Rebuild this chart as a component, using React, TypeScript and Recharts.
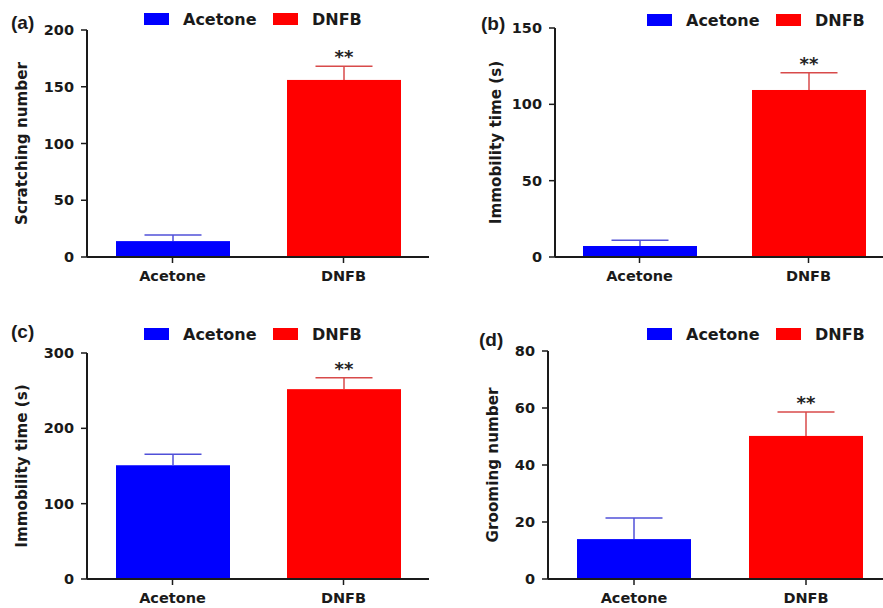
import React from 'react';
import { BarChart, Bar, XAxis, YAxis, Legend } from 'recharts';

const categories = ['Acetone', 'DNFB'];

const scratchMean = [14, 156];
const scratchSem = [5.4, 12];
const immobilityBMean = [7.2, 109.4];
const immobilityBSem = [3.8, 11.3];
const immobilityCMean = [151, 252];
const immobilityCSem = [14.5, 15];
const groomingMean = [14, 50.2];
const groomingSem = [7.4, 8.4];
const significant = [false, true];

const ticksA = [0, 50, 100, 150, 200];
const ticksB = [0, 50, 100, 150];
const ticksC = [0, 100, 200, 300];
const ticksD = [0, 20, 40, 60, 80];

const FONT = '"DejaVu Sans", sans-serif';
const AXIS = '#1a1a1a';
const BLUE = '#0000ff';
const RED = '#ff0000';
const BLUE_ERR = '#5050d8';
const RED_ERR = '#d84a4a';

function buildRows(means: number[], sems: number[]) {
  return categories.map((c, i) => ({
    name: c,
    acetone: i === 0 ? means[i] : null,
    dnfb: i === 1 ? means[i] : null,
    err: sems[i],
    sig: significant[i],
  }));
}

function makeShape(key: string, fill: string, errColor: string) {
  return (props: any) => {
    const { x, y, width, height, payload } = props;
    const v = payload ? payload[key] : null;
    if (v == null || !height || height <= 0) return <g />;
    const ppu = height / v;
    const e = payload.err * ppu;
    const cx = x + width / 2;
    const top = y - e;
    return (
      <g>
        <rect x={x} y={y} width={width} height={height} fill={fill} />
        <line x1={cx} y1={y} x2={cx} y2={top} stroke={errColor} strokeWidth={1.5} />
        <line x1={cx - 28.5} y1={top} x2={cx + 28.5} y2={top} stroke={errColor} strokeWidth={1.5} />
        {payload.sig ? (
          <text x={cx} y={top - 3} textAnchor="middle" fontFamily={FONT} fontWeight="bold" fontSize={18} fill="#222">
            **
          </text>
        ) : null}
      </g>
    );
  };
}

function LegendContent(props: any) {
  const payload = props.payload || [];
  return (
    <svg width={250} height={22} style={{ display: 'block' }}>
      {payload.map((e: any, i: number) => (
        <g key={i}>
          <rect x={i * 129} y={3} width={25} height={12} fill={e.color} />
          <text x={i * 129 + 39} y={15} fontFamily={FONT} fontWeight="bold" fontSize={16} fill="#1a1a1a">
            {e.value}
          </text>
        </g>
      ))}
    </svg>
  );
}

type PanelProps = {
  left: number;
  top: number;
  width: number;
  height: number;
  marginTop: number;
  marginBottom: number;
  yAxisWidth: number;
  xAxisHeight: number;
  domainMax: number;
  ticks: number[];
  means: number[];
  sems: number[];
  yLabel: string;
  yLabelX: number;
  legendLeft: number;
  legendTop: number;
  letter: string;
  letterLeft: number;
  letterTop: number;
};

function Panel(p: PanelProps) {
  const data = buildRows(p.means, p.sems);
  const yLabelContent = (lp: any) => {
    const vb = lp.viewBox || {};
    const cy = vb.y + vb.height / 2;
    return (
      <text
        x={p.yLabelX}
        y={cy}
        transform={`rotate(-90 ${p.yLabelX} ${cy})`}
        textAnchor="middle"
        fontFamily={FONT}
        fontWeight="bold"
        fontSize={15.2}
        fill="#1a1a1a"
      >
        {p.yLabel}
      </text>
    );
  };
  return (
    <div style={{ position: 'absolute', left: p.left, top: p.top }}>
      <BarChart
        width={p.width}
        height={p.height}
        data={data}
        margin={{ top: p.marginTop, right: 0, left: 0, bottom: p.marginBottom }}
        barGap={-114}
        barSize={114}
      >
        <XAxis
          dataKey="name"
          height={p.xAxisHeight}
          interval={0}
          tickSize={6}
          tickMargin={8}
          axisLine={{ stroke: AXIS, strokeWidth: 2 }}
          tickLine={{ stroke: AXIS, strokeWidth: 1.5 }}
          tick={{ fontFamily: FONT, fontWeight: 'bold', fontSize: 14.5, fill: '#1a1a1a' }}
        />
        <YAxis
          type="number"
          width={p.yAxisWidth}
          domain={[0, p.domainMax]}
          ticks={p.ticks}
          interval={0}
          tickSize={6}
          tickMargin={7}
          axisLine={{ stroke: AXIS, strokeWidth: 2 }}
          tickLine={{ stroke: AXIS, strokeWidth: 1.5 }}
          tick={{ fontFamily: FONT, fontWeight: 'bold', fontSize: 14.5, fill: '#1a1a1a' }}
          label={{ content: yLabelContent }}
        />
        <Legend
          layout="horizontal"
          verticalAlign="middle"
          align="center"
          content={<LegendContent />}
          wrapperStyle={{ position: 'absolute', left: p.legendLeft, top: p.legendTop, width: 250, height: 22, margin: 0 }}
        />
        <Bar dataKey="acetone" name="Acetone" fill={BLUE} isAnimationActive={false} shape={makeShape('acetone', BLUE, BLUE_ERR)} />
        <Bar dataKey="dnfb" name="DNFB" fill={RED} isAnimationActive={false} shape={makeShape('dnfb', RED, RED_ERR)} />
      </BarChart>
      <div
        style={{
          position: 'absolute',
          left: p.letterLeft,
          top: p.letterTop,
          fontFamily: '"Liberation Sans", Arial, sans-serif',
          fontWeight: 'bold',
          fontSize: 19,
          lineHeight: '19px',
          color: '#1a1a1a',
          whiteSpace: 'nowrap',
        }}
      >
        {p.letter}
      </div>
    </div>
  );
}

export default function App() {
  return (
    <div
      style={{
        position: 'fixed',
        left: 0,
        top: 0,
        width: 883,
        height: 608,
        overflow: 'hidden',
        background: '#ffffff',
      }}
    >
      <Panel
        left={0} top={0} width={429} height={300}
        marginTop={30} marginBottom={13} yAxisWidth={87} xAxisHeight={30}
        domainMax={200} ticks={ticksA} means={scratchMean} sems={scratchSem}
        yLabel="Scratching number" yLabelX={27}
        legendLeft={144} legendTop={10}
        letter="(a)" letterLeft={11} letterTop={13}
      />
      <Panel
        left={441} top={0} width={452} height={300}
        marginTop={28} marginBottom={13} yAxisWidth={114} xAxisHeight={30}
        domainMax={150} ticks={ticksB} means={immobilityBMean} sems={immobilityBSem}
        yLabel="Immobility time (s)" yLabelX={59.5}
        legendLeft={206} legendTop={11}
        letter="(b)" letterLeft={40} letterTop={14}
      />
      <Panel
        left={0} top={300} width={429} height={308}
        marginTop={53} marginBottom={0} yAxisWidth={87} xAxisHeight={29}
        domainMax={300} ticks={ticksC} means={immobilityCMean} sems={immobilityCSem}
        yLabel="Immobility time (s)" yLabelX={26.5}
        legendLeft={144} legendTop={25}
        letter="(c)" letterLeft={11} letterTop={22}
      />
      <Panel
        left={441} top={300} width={451} height={308}
        marginTop={51} marginBottom={0} yAxisWidth={107} xAxisHeight={29}
        domainMax={80} ticks={ticksD} means={groomingMean} sems={groomingSem}
        yLabel="Grooming number" yLabelX={56.5}
        legendLeft={206} legendTop={25}
        letter="(d)" letterLeft={38} letterTop={30}
      />
    </div>
  );
}
